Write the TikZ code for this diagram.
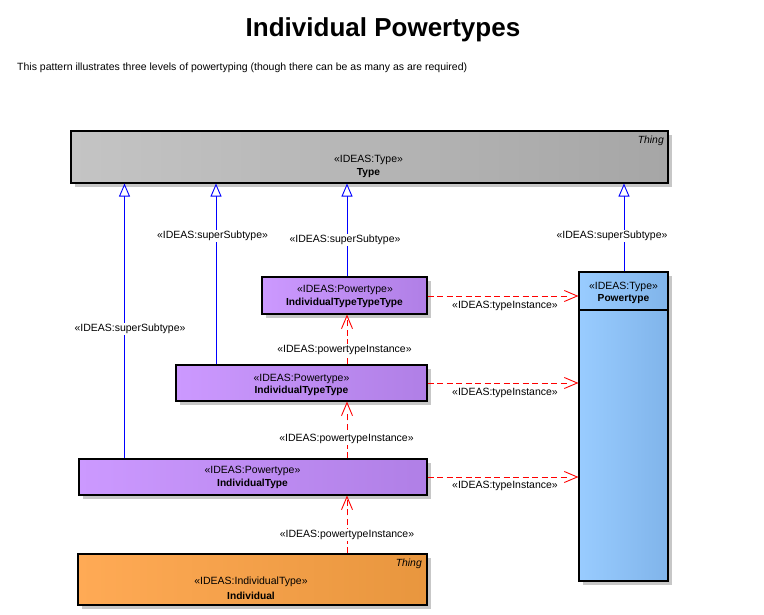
\documentclass[tikz,border=0pt]{standalone}
\usepackage{fontspec}
\setmainfont{Liberation Sans}
\usetikzlibrary{arrows.meta,shadows}
\definecolor{grayL}{HTML}{C4C4C4}
\definecolor{grayR}{HTML}{A6A6A6}
\definecolor{purL}{HTML}{CC99FF}
\definecolor{purR}{HTML}{B07FE6}
\definecolor{bluL}{HTML}{99CCFF}
\definecolor{bluR}{HTML}{80B4EA}
\definecolor{orL}{HTML}{FFAA55}
\definecolor{orR}{HTML}{E8963E}
\definecolor{genc}{HTML}{0000FF}
\definecolor{depc}{HTML}{FF0000}
\newcommand\dashrun[1]{\hbox to #1{\color{depc}\leaders\hbox{\rule[-0.45pt]{6pt}{0.9pt}\hskip3.5pt}\hfil}}
\begin{document}
\begin{tikzpicture}[x=1pt,y=-1pt,
  box/.style 2 args={draw=black, line width=1.1pt, inner sep=0pt,
     left color=#1, right color=#2,
     drop shadow={shadow xshift=4pt, shadow yshift=-4pt, fill=black!22, opacity=1}},
  txt/.style={font=\fontsize{10.5}{12}\selectfont, inner sep=0pt},
  bold/.style={font=\fontsize{10.2}{12}\selectfont\bfseries, inner sep=0pt},
  thing/.style={font=\fontsize{10.4}{12}\selectfont\itshape, inner sep=0pt, anchor=east},
  lbl/.style={font=\fontsize{10.5}{12}\selectfont, inner sep=1pt, fill=white},
  genl/.style={color=genc, line width=0.9pt, -{Triangle[open, length=13pt, width=11pt, fill=white]}},
  depl/.style={color=depc, line width=0.9pt, dash pattern=on 0pt off 2000pt,
     -{Straight Barb[length=13pt, width=11pt, color=depc]}},
  dashnode/.style={inner sep=0pt, outer sep=0pt, anchor=west, pos=0}
]
\useasboundingbox (0,0) rectangle (764,615);

\node[font=\fontsize{26}{30}\selectfont\bfseries] (title) at (383,30) {Individual Powertypes};
\node[txt, anchor=west] (sub) at (17,68) {This pattern illustrates three levels of powertyping (though there can be as many as are required)};

% boxes
\node[box={grayL}{grayR}, minimum width=597pt, minimum height=52pt] (type) at (369.5,157) {};
\node[box={bluL}{bluR}, minimum width=89pt, minimum height=309pt] (pt) at (623.5,426.5) {};
\node[box={purL}{purR}, minimum width=165pt, minimum height=37pt] (ittt) at (344.5,295.5) {};
\node[box={purL}{purR}, minimum width=251pt, minimum height=36pt] (itt) at (301.5,383) {};
\node[box={purL}{purR}, minimum width=348pt, minimum height=36pt] (it) at (253,477) {};
\node[box={orL}{orR}, minimum width=349pt, minimum height=51pt] (ind) at (252.5,579.5) {};

\draw[line width=1.1pt] (pt.west |- 0,310) coordinate (pth1) -- (pt.east |- 0,310) coordinate (pth2);

% texts
\node[thing] (type-th) at (664,140.5) {Thing};
\node[txt] (type-s) at (368.5,159.5) {«IDEAS:Type»};
\node[bold] (type-n) at (368.5,173) {Type};

\node[txt] (pt-s) at (623.5,287) {«IDEAS:Type»};
\node[bold] (pt-n) at (623.5,299.5) {Powertype};

\node[txt] (ittt-s) at (345,290) {«IDEAS:Powertype»};
\node[bold] (ittt-n) at (344.5,303) {IndividualTypeTypeType};

\node[txt] (itt-s) at (301.5,378.5) {«IDEAS:Powertype»};
\node[bold] (itt-n) at (301.5,391) {IndividualTypeType};

\node[txt] (it-s) at (252.5,471) {«IDEAS:Powertype»};
\node[bold] (it-n) at (252.5,484) {IndividualType};

\node[thing] (ind-th) at (422,563.5) {Thing};
\node[txt] (ind-s) at (251,582) {«IDEAS:IndividualType»};
\node[bold] (ind-n) at (251,596) {Individual};

% generalizations
\draw[genl] (it.north -| 124.5,0) -- (type.south -| 124.5,0);
\draw[genl] (itt.north -| 216,0) -- (type.south -| 216,0);
\draw[genl] (ittt.north -| 347,0) -- (type.south -| 347,0);
\draw[genl] (pt.north -| 624,0) -- (type.south -| 624,0);
\node[lbl] (g1) at (130,329) {«IDEAS:superSubtype»};
\node[lbl] (g2) at (212.5,236) {«IDEAS:superSubtype»};
\node[lbl] (g3) at (345,240) {«IDEAS:superSubtype»};
\node[lbl] (g4) at (612,236) {«IDEAS:superSubtype»};

% type instances
\draw[depl] (ittt.east |- 0,296) -- node[dashnode] (h1) {\dashrun{150pt}} (pt.west |- 0,296);
\draw[depl] (itt.east |- 0,383) -- node[dashnode] (h2) {\dashrun{150pt}} (pt.west |- 0,383);
\draw[depl] (it.east |- 0,477) -- node[dashnode] (h3) {\dashrun{150pt}} (pt.west |- 0,477);
\node[txt] (d1) at (505,306) {«IDEAS:typeInstance»};
\node[txt] (d2) at (505,393) {«IDEAS:typeInstance»};
\node[txt] (d3) at (505,486) {«IDEAS:typeInstance»};

% powertype instances
\draw[depl] (itt.north -| 347,0) -- node[dashnode, rotate=90] (v1) {\dashrun{49.5pt}} (ittt.south -| 347,0);
\draw[depl] (it.north -| 347,0) -- node[dashnode, rotate=90] (v2) {\dashrun{56.5pt}} (itt.south -| 347,0);
\draw[depl] (ind.north -| 347,0) -- node[dashnode, rotate=90] (v3) {\dashrun{57.5pt}} (it.south -| 347,0);
\node[lbl] (p1) at (344.5,350) {«IDEAS:powertypeInstance»};
\node[lbl] (p2) at (346.5,439) {«IDEAS:powertypeInstance»};
\node[lbl] (p3) at (347,535) {«IDEAS:powertypeInstance»};
\end{tikzpicture}
\end{document}
